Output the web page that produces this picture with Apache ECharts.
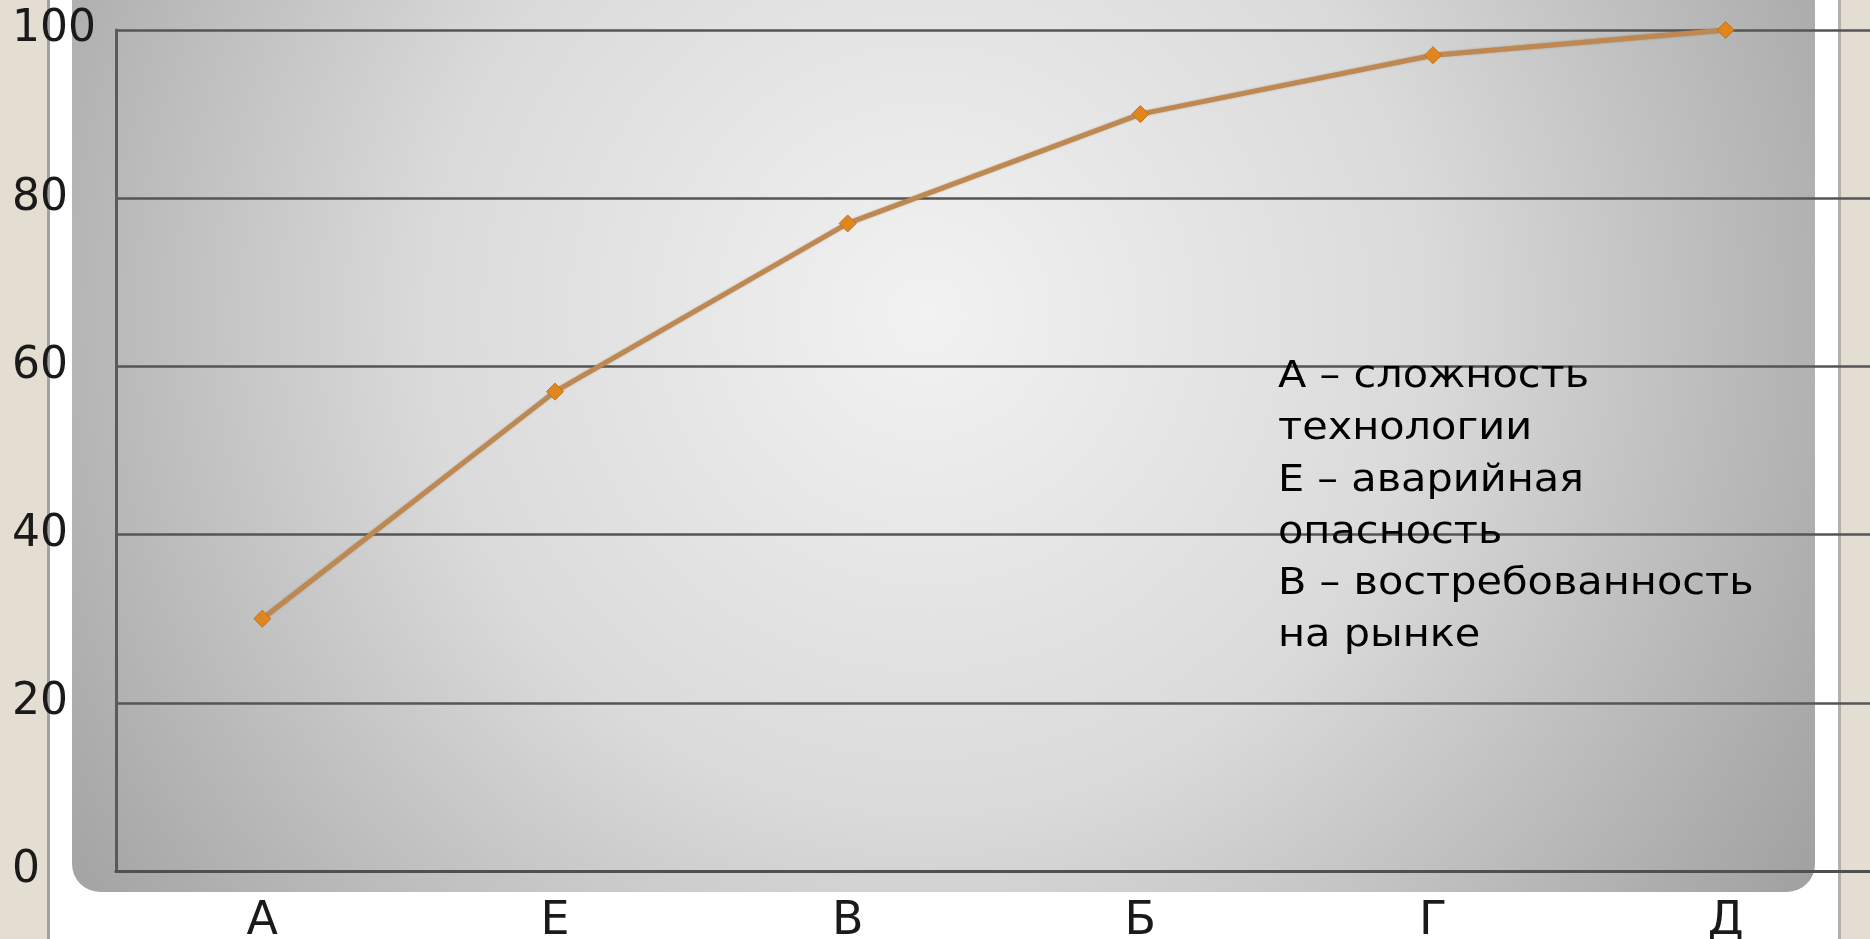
<!DOCTYPE html>
<html>
<head>
<meta charset="utf-8">
<script src="https://cdn.jsdelivr.net/npm/echarts@6/dist/echarts.min.js"></script>
<style>
html,body{margin:0;padding:0;background:#ffffff;}
#chart{width:1870px;height:939px;}
</style>
</head>
<body>
<div id="chart"></div>
<script>
const categories = ['А', 'Е', 'В', 'Б', 'Г', 'Д'];
const values = [30, 57, 77, 90, 97, 100];
const yMin = 0, yMax = 100, yInterval = 20;
const noteLines = ['А – сложность', 'технологии', 'Е – аварийная', 'опасность', 'В – востребованность', 'на рынке'];

const chart = echarts.init(document.getElementById('chart'), null, {renderer: 'canvas'});
const font = '"DejaVu Sans", Verdana, sans-serif';

chart.setOption({
  animation: false,
  backgroundColor: '#ffffff',
  grid: {left: 116, top: 30, width: 1756, height: 841, containLabel: false, outerBoundsMode: 'none'},
  graphic: [
    {type: 'rect', z: -10, silent: true, shape: {x: 0, y: 0, width: 48, height: 939}, style: {fill: '#e4ded2'}},
    {type: 'rect', z: -9, silent: true, shape: {x: 47, y: 0, width: 3, height: 939}, style: {fill: '#a3a19c'}},
    {type: 'rect', z: -10, silent: true, shape: {x: 1838, y: 0, width: 32, height: 939}, style: {fill: '#e4ded2'}},
    {type: 'rect', z: -9, silent: true, shape: {x: 1838, y: 0, width: 3, height: 939}, style: {fill: '#b5b1aa'}},
    {type: 'rect', z: -8, silent: true,
      shape: {x: 72, y: -40, width: 1743, height: 932, r: 28},
      style: {fill: {type: 'radial', x: 0.49, y: 0.38, r: 1.2,
        colorStops: [{offset: 0, color: '#f2f2f2'}, {offset: 0.45, color: '#dadada'}, {offset: 0.85, color: '#ababab'}, {offset: 1, color: '#9a9a9a'}]}}},
    {type: 'text', z: 50, x: 1278, y: 352, scaleX: 1.12, silent: true,
      style: {text: noteLines.join('\n'), font: '37px ' + font, lineHeight: 51.7, fill: '#000000'}}
  ],
  xAxis: {
    type: 'category', data: categories, boundaryGap: true,
    axisLine: {show: true, lineStyle: {color: '#505050', width: 3}},
    axisTick: {show: false},
    axisLabel: {interval: 0, fontFamily: font, fontSize: 46, color: '#1a1a1a', margin: 28}
  },
  yAxis: {
    type: 'value', min: yMin, max: yMax, interval: yInterval,
    axisLine: {show: true, lineStyle: {color: '#5a5a5a', width: 3}},
    axisTick: {show: false},
    splitLine: {show: true, lineStyle: {color: '#555555', width: 2.5}},
    axisLabel: {fontFamily: font, fontSize: 44, color: '#1a1a1a', align: 'left', margin: 104, padding: [8, 0, 0, 0]}
  },
  series: [{
    type: 'line', data: values, z: 20,
    symbol: 'diamond', symbolSize: 17,
    lineStyle: {color: '#bf8850', width: 5, shadowColor: 'rgba(80,60,30,0.35)', shadowBlur: 2},
    itemStyle: {color: '#e0861c', borderColor: '#b9741f', borderWidth: 1}
  }]
});
</script>
</body>
</html>
